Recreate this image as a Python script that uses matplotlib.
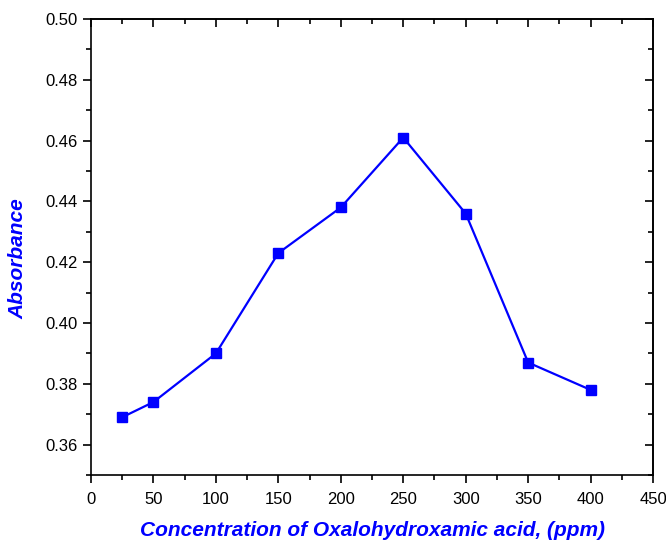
# Absorbance vs concentration
import matplotlib.pyplot as plt
from matplotlib.ticker import MultipleLocator

plt.rcParams['font.family'] = ['Liberation Sans', 'DejaVu Sans']

# Data
concentration = [25, 50, 100, 150, 200, 250, 300, 350, 400]
absorbance = [0.369, 0.374, 0.390, 0.423, 0.438, 0.461, 0.436, 0.387, 0.378]

fig = plt.figure(figsize=(6.66, 5.43), dpi=100)
ax = fig.add_axes([0.1366, 0.1252, 0.844, 0.8398])

ax.plot(concentration, absorbance, color='#0000ff', lw=1.6,
        marker='s', markersize=6.5, markerfacecolor='#0000ff', markeredgecolor='#0000ff')

ax.set_xlim(0, 450)
ax.set_ylim(0.35, 0.50)
ax.xaxis.set_major_locator(MultipleLocator(50))
ax.xaxis.set_minor_locator(MultipleLocator(25))
ax.set_yticks([0.36, 0.38, 0.40, 0.42, 0.44, 0.46, 0.48, 0.50])
ax.yaxis.set_minor_locator(MultipleLocator(0.01))
ax.yaxis.set_major_formatter(plt.FormatStrFormatter('%.2f'))

ax.tick_params(which='both', direction='out', width=1.2, labelsize=12, top=False, right=False)
ax.tick_params(which='major', length=6)
ax.tick_params(which='minor', length=3.5)
ax.tick_params(axis='x', which='major', pad=6)

# mirrored ticks pointing inward on the top and right edges
ax_top = ax.secondary_xaxis('top')
ax_top.xaxis.set_major_locator(MultipleLocator(50))
ax_top.xaxis.set_minor_locator(MultipleLocator(25))
ax_top.tick_params(which='both', direction='in', width=1.2, labeltop=False)
ax_top.tick_params(which='major', length=6)
ax_top.tick_params(which='minor', length=3.5)
ax_right = ax.secondary_yaxis('right')
ax_right.yaxis.set_major_locator(MultipleLocator(0.02))
ax_right.yaxis.set_minor_locator(MultipleLocator(0.01))
ax_right.tick_params(which='both', direction='in', width=1.2, labelright=False)
ax_right.tick_params(which='major', length=6)
ax_right.tick_params(which='minor', length=3.5)

for s in ax.spines.values():
    s.set_linewidth(1.2)
ax_top.spines['top'].set_linewidth(1.2)
ax_right.spines['right'].set_linewidth(1.2)

ax.set_xlabel('Concentration of Oxalohydroxamic acid, (ppm)', color='#0000ff',
              fontsize=15, fontweight='bold', fontstyle='italic', labelpad=10)
ax.set_ylabel('Absorbance', color='#0000ff',
              fontsize=15, fontweight='bold', fontstyle='italic')
ax.yaxis.set_label_coords(-0.113, 0.474)

plt.savefig('out.png', dpi=100)
